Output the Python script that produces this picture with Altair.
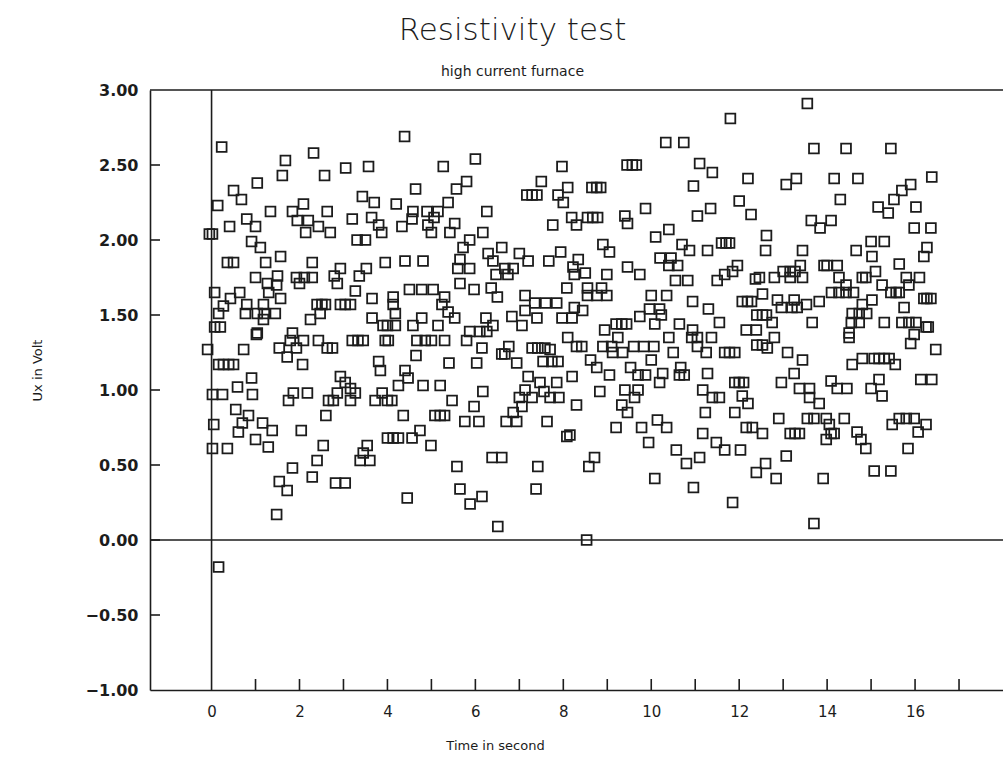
import altair as alt
import pandas as pd

# ---- data: (time in s, Ux in V), grouped by region ----
pts_a = [(0.23,2.62),(1.68,2.53),(2.32,2.58),(3.05,2.48),(3.57,2.49),(1.61,2.43),(2.57,2.43),(1.04,2.38),(0.50,2.33),(0.68,2.27),
 (0.14,2.23),(3.43,2.29),(3.70,2.25),(1.34,2.19),(2.09,2.24),(1.84,2.19),(2.63,2.19),(1.95,2.13),(2.20,2.13),(0.80,2.14),
 (1.00,2.09),(0.41,2.09),(2.43,2.09),(2.14,2.05),(2.70,2.05),(3.20,2.14),(3.64,2.15),(3.80,2.10),(3.87,2.05),(-0.05,2.04),
 (0.02,2.04),(0.91,1.99),(1.11,1.95),(3.31,2.00),(3.50,2.00),(1.57,1.89),(0.36,1.85),(0.50,1.85),(1.23,1.85),(2.29,1.85),
 (3.95,1.85),(1.00,1.75),(1.50,1.76),(1.93,1.75),(2.11,1.75),(2.29,1.75),(2.93,1.81),(2.79,1.76),(3.52,1.81),(3.36,1.76),
 (1.27,1.71),(1.48,1.70),(2.00,1.71),(2.86,1.71),(0.07,1.65),(0.64,1.65),(1.30,1.65),(3.27,1.66),(3.65,1.61),(0.43,1.61),
 (1.57,1.61),(0.27,1.56),(0.80,1.57),(1.18,1.57),(2.40,1.57),(2.51,1.57),(2.59,1.57),(2.93,1.57),(3.04,1.57),(3.16,1.57),
 (0.16,1.51),(0.77,1.51),(1.04,1.51),(1.20,1.51),(1.45,1.51),(2.47,1.51),(2.25,1.47),(1.18,1.47),(3.65,1.48),(3.90,1.43),
 (0.07,1.42),(0.20,1.42),(1.04,1.38),(1.84,1.38)]

pts_b = [(4.39,2.69),(6.00,2.54),(5.27,2.49),(7.97,2.49),(5.80,2.39),(5.57,2.34),(4.64,2.34),(7.50,2.39),(7.17,2.30),(7.29,2.30),
 (7.40,2.30),(8.10,2.35),(7.88,2.30),(8.00,2.25),(4.20,2.24),(5.38,2.25),(6.26,2.19),(4.58,2.19),(4.90,2.19),(5.15,2.19),
 (4.56,2.14),(5.06,2.15),(4.33,2.09),(4.92,2.10),(5.53,2.11),(5.00,2.05),(5.42,2.05),(7.76,2.10),(8.19,2.15),(8.30,2.10),
 (6.17,2.05),(5.87,2.00),(5.72,1.95),(6.60,1.95),(6.29,1.91),(7.00,1.91),(7.20,1.86),(6.40,1.86),(7.67,1.86),(7.94,1.92),
 (8.22,1.82),(4.40,1.86),(4.81,1.86),(5.65,1.87),(5.60,1.81),(5.87,1.81),(6.67,1.81),(6.86,1.81),(6.47,1.77),(6.74,1.77),
 (8.25,1.77),(5.65,1.71),(5.97,1.67),(6.36,1.68),(8.08,1.68),(4.50,1.67),(4.78,1.67),(5.04,1.67),(4.13,1.62),(5.30,1.62),
 (6.50,1.62),(7.13,1.63),(4.13,1.57),(5.24,1.57),(7.35,1.58),(7.60,1.58),(7.85,1.58),(4.18,1.51),(5.38,1.52),(7.13,1.53),
 (8.25,1.55),(4.78,1.48),(5.53,1.48),(6.24,1.48),(6.83,1.49),(7.40,1.48),(7.97,1.48),(8.20,1.48),(4.00,1.43),(4.18,1.43),
 (4.58,1.43),(5.15,1.43),(6.40,1.43),(7.06,1.43),(5.87,1.39),(6.10,1.39),(6.26,1.39)]

pts_c = [(11.80,2.81),(10.33,2.65),(10.74,2.65),(9.45,2.50),(9.57,2.50),(9.66,2.50),(11.10,2.51),(11.39,2.45),(12.20,2.41),(10.96,2.36),
 (8.65,2.35),(8.76,2.35),(8.85,2.35),(12.00,2.26),(9.87,2.21),(11.05,2.16),(11.35,2.21),(12.27,2.17),(8.55,2.15),(8.67,2.15),
 (8.78,2.15),(9.40,2.16),(9.46,2.11),(10.40,2.07),(10.10,2.02),(12.62,2.03),(8.90,1.97),(9.05,1.92),(10.70,1.97),(10.87,1.93),
 (11.28,1.93),(11.60,1.98),(11.70,1.98),(11.78,1.98),(12.60,1.93),(8.34,1.87),(10.20,1.88),(10.45,1.88),(10.40,1.83),(10.60,1.83),
 (9.46,1.82),(9.74,1.77),(8.99,1.77),(8.50,1.78),(10.55,1.73),(10.83,1.73),(11.50,1.73),(11.67,1.77),(11.85,1.79),(11.96,1.83),
 (12.37,1.74),(8.55,1.68),(8.87,1.68),(8.55,1.63),(8.76,1.63),(8.99,1.63),(10.00,1.63),(10.35,1.63),(10.94,1.59),(12.07,1.59),
 (12.19,1.59),(12.28,1.59),(12.53,1.64),(8.44,1.53),(9.96,1.54),(10.19,1.54),(9.74,1.49),(10.23,1.50),(11.30,1.54),(12.40,1.50),
 (12.53,1.50),(12.62,1.50),(9.20,1.44),(9.33,1.44),(9.44,1.44),(8.94,1.40),(10.08,1.44),(10.64,1.44),(10.94,1.40),(11.55,1.45),
 (12.16,1.40),(12.39,1.40)]

pts_d = [(13.55,2.91),(13.70,2.61),(14.43,2.61),(15.45,2.61),(16.38,2.42),(13.30,2.41),(13.07,2.37),(14.16,2.41),(14.70,2.41),(15.90,2.37),
 (15.70,2.33),(15.52,2.27),(14.30,2.27),(15.16,2.22),(15.39,2.18),(16.02,2.22),(13.64,2.13),(13.84,2.08),(14.09,2.13),(15.98,2.08),
 (16.36,2.08),(13.44,1.93),(14.66,1.93),(15.00,1.99),(15.30,1.99),(15.02,1.89),(16.27,1.95),(16.20,1.89),(15.64,1.84),(13.39,1.83),
 (13.93,1.83),(14.00,1.83),(14.23,1.83),(13.00,1.79),(13.16,1.79),(13.27,1.79),(15.10,1.79),(12.46,1.75),(12.80,1.75),(13.16,1.75),
 (13.44,1.75),(14.27,1.75),(14.80,1.75),(14.88,1.75),(15.80,1.75),(16.10,1.75),(14.43,1.70),(15.25,1.70),(15.86,1.70),(14.10,1.65),
 (14.27,1.65),(14.43,1.65),(14.60,1.65),(15.45,1.65),(15.57,1.65),(15.64,1.65),(12.87,1.60),(13.25,1.60),(13.53,1.57),(13.82,1.59),
 (15.02,1.60),(16.20,1.61),(16.27,1.61),(16.36,1.61),(12.96,1.55),(13.20,1.55),(13.32,1.55),(14.80,1.57),(14.73,1.51),(14.90,1.51),
 (15.75,1.55),(12.75,1.45),(13.66,1.45),(14.55,1.45),(14.73,1.45),(14.57,1.51),(15.30,1.45),(15.70,1.45),(15.86,1.45),(16.02,1.45),
 (16.25,1.42),(16.30,1.42),(14.50,1.38)]

pts_e = [(1.02,1.37),(1.79,1.33),(2.09,1.33),(1.93,1.28),(1.72,1.22),(1.54,1.28),(2.43,1.33),(2.75,1.28),(2.63,1.28),(3.20,1.33),
 (3.33,1.33),(3.45,1.33),(-0.09,1.27),(0.73,1.27),(3.95,1.33),(3.80,1.19),(3.84,1.13),(0.16,1.17),(0.27,1.17),(0.39,1.17),
 (0.50,1.17),(2.07,1.17),(0.91,1.08),(2.93,1.09),(3.04,1.05),(3.16,1.01),(0.59,1.02),(0.02,0.97),(0.25,0.97),(0.93,0.97),
 (1.86,0.98),(2.18,0.98),(1.75,0.93),(2.66,0.93),(2.77,0.93),(2.86,0.98),(3.16,0.93),(3.27,0.98),(3.72,0.93),(3.88,0.98),
 (4.00,0.93),(0.55,0.87),(0.84,0.83),(0.70,0.78),(0.61,0.72),(1.16,0.78),(1.38,0.73),(1.00,0.67),(1.29,0.62),(0.05,0.77),
 (0.02,0.61),(0.36,0.61),(2.04,0.73),(2.60,0.83),(2.54,0.63),(2.40,0.53),(1.84,0.48),(2.29,0.42),(1.54,0.39),(1.72,0.33),
 (2.82,0.38),(3.04,0.38),(3.54,0.63),(3.45,0.58),(3.38,0.53),(3.60,0.53),(1.48,0.17),(0.16,-0.18),(4.00,0.68)]

pts_f = [(4.02,1.33),(4.67,1.33),(4.86,1.33),(5.00,1.33),(5.30,1.33),(5.80,1.33),(6.15,1.28),(4.65,1.23),(5.40,1.18),(6.03,1.18),
 (6.60,1.24),(6.67,1.24),(6.76,1.29),(6.94,1.18),(7.29,1.28),(7.42,1.28),(7.58,1.28),(7.70,1.27),(7.54,1.19),(7.74,1.19),
 (7.88,1.19),(8.10,1.35),(8.30,1.29),(4.40,1.13),(4.47,1.08),(4.25,1.03),(4.81,1.03),(5.20,1.03),(4.10,0.93),(5.47,0.93),
 (6.17,0.99),(5.97,0.89),(7.20,1.09),(7.47,1.05),(7.85,1.05),(8.20,1.09),(7.13,1.00),(7.00,0.95),(7.29,0.95),(7.56,0.99),
 (7.70,0.95),(7.90,0.95),(7.06,0.89),(6.86,0.85),(8.30,0.90),(4.36,0.83),(5.08,0.83),(5.20,0.83),(5.30,0.83),(5.76,0.79),
 (6.08,0.79),(6.70,0.79),(6.94,0.79),(7.63,0.79),(4.13,0.68),(4.25,0.68),(4.56,0.68),(4.74,0.73),(4.99,0.63),(8.08,0.69),
 (5.58,0.49),(6.38,0.55),(6.60,0.55),(7.42,0.49),(4.45,0.28),(5.65,0.34),(6.15,0.29),(5.88,0.24),(7.38,0.34),(6.51,0.09)]

pts_g = [(10.92,1.35),(11.05,1.35),(11.37,1.35),(10.40,1.35),(8.42,1.29),(8.90,1.29),(9.10,1.29),(9.24,1.35),(9.35,1.25),(9.12,1.25),
 (9.60,1.29),(9.83,1.29),(10.06,1.29),(10.50,1.25),(10.00,1.20),(11.05,1.29),(11.25,1.25),(11.67,1.25),(11.78,1.25),(11.90,1.25),
 (12.40,1.30),(12.53,1.30),(12.64,1.28),(8.62,1.20),(8.76,1.15),(9.05,1.10),(9.53,1.15),(9.70,1.10),(9.87,1.10),(10.26,1.11),
 (10.19,1.05),(10.67,1.15),(10.64,1.10),(10.75,1.10),(11.28,1.11),(11.90,1.05),(12.00,1.05),(12.10,1.05),(8.83,0.99),(9.40,1.00),
 (9.62,0.95),(9.70,1.00),(9.33,0.90),(9.46,0.85),(11.17,1.00),(11.39,0.95),(11.55,0.95),(12.07,0.96),(12.20,0.91),(11.23,0.85),
 (11.90,0.85),(9.20,0.75),(9.78,0.75),(10.14,0.80),(10.35,0.75),(9.94,0.65),(11.17,0.71),(11.48,0.65),(11.67,0.60),(12.03,0.60),
 (12.16,0.75),(12.30,0.75),(12.53,0.71),(10.57,0.60),(11.10,0.55),(10.80,0.51),(8.15,0.70),(8.71,0.55),(8.58,0.49),(12.39,0.45),
 (12.60,0.51),(10.08,0.41),(10.96,0.35),(11.85,0.25),(8.53,0.00)]

pts_h = [(12.80,1.35),(14.50,1.35),(15.90,1.31),(15.98,1.37),(16.47,1.27),(13.10,1.25),(13.44,1.20),(14.57,1.17),(14.80,1.21),(15.07,1.21),
 (15.18,1.21),(15.30,1.21),(15.41,1.21),(15.55,1.17),(13.25,1.11),(12.96,1.05),(13.37,1.01),(13.60,1.01),(13.60,0.95),(13.82,0.91),
 (14.09,1.06),(14.23,1.01),(14.45,1.01),(15.00,1.01),(15.18,1.07),(15.25,0.96),(16.13,1.07),(16.38,1.07),(12.90,0.81),(13.55,0.81),
 (13.70,0.81),(13.98,0.81),(14.39,0.81),(13.16,0.71),(13.27,0.71),(13.37,0.71),(14.05,0.77),(14.16,0.71),(13.98,0.67),(14.09,0.71),
 (14.68,0.72),(14.77,0.67),(14.88,0.61),(15.48,0.77),(15.64,0.81),(15.80,0.81),(15.98,0.81),(16.25,0.77),(16.07,0.72),(15.84,0.61),
 (13.07,0.56),(12.84,0.41),(13.91,0.41),(15.07,0.46),(15.45,0.46),(13.70,0.11)]

x_label_values = [0, 2, 4, 6, 8, 10, 12, 14, 16]
x_minor_ticks = list(range(1, 18))
y_label_values = [-1.0, -0.5, 0.0, 0.5, 1.0, 1.5, 2.0, 2.5, 3.0]
y_inner_ticks = [-0.5, 0.0, 0.5, 1.0, 1.5, 2.0, 2.5]
x_domain = [-1.4, 18.0]
y_domain = [-1.0, 3.0]

all_pts = pts_a + pts_b + pts_c + pts_d + pts_e + pts_f + pts_g + pts_h
df = pd.DataFrame(all_pts, columns=["t", "ux"])

INK = "#1c1c1c"
FONT = "DejaVu Sans"
W, H = 853, 600

xscale = alt.Scale(domain=x_domain, nice=False, zero=False)
yscale = alt.Scale(domain=y_domain, nice=False, zero=False)

points = alt.Chart(df).mark_point(
    shape="square", filled=False, size=96, strokeWidth=1.8, color=INK, opacity=1
).encode(
    x=alt.X("t:Q", scale=xscale, axis=alt.Axis(
        values=x_label_values, format="d", tickSize=0, grid=False,
        domain=True, domainColor=INK, domainWidth=1.6,
        labelPadding=14, labelFontSize=15, labelFont=FONT, labelColor=INK,
        title="Time in second", titleFont=FONT, titleFontSize=13,
        titleFontWeight="normal", titleColor=INK,
        titleX=345, titleY=55, titleAlign="center", titleBaseline="middle")),
    y=alt.Y("ux:Q", scale=yscale, axis=alt.Axis(
        values=y_label_values, format=".2f", tickSize=0, grid=False,
        domain=True, domainColor=INK, domainWidth=1.6,
        labelPadding=12, labelFontSize=16, labelFont=FONT, labelColor=INK,
        labelFontWeight="bold",
        title="Ux in Volt", titleFont=FONT, titleFontSize=13,
        titleFontWeight="normal", titleColor=INK,
        titleX=-113, titleY=280, titleAngle=270, titleAlign="center",
        titleBaseline="middle")),
)

top_line = alt.Chart(pd.DataFrame({"v": [y_domain[1]]})).mark_rule(
    color=INK, strokeWidth=1.6).encode(y=alt.Y("v:Q", scale=yscale))
zero_h = alt.Chart(pd.DataFrame({"v": [0.0]})).mark_rule(
    color=INK, strokeWidth=1.6).encode(y=alt.Y("v:Q", scale=yscale))
zero_v = alt.Chart(pd.DataFrame({"v": [0.0]})).mark_rule(
    color=INK, strokeWidth=1.6).encode(x=alt.X("v:Q", scale=xscale))

yticks = alt.Chart(pd.DataFrame({"v": y_inner_ticks})).mark_rule(
    color=INK, strokeWidth=1.6).encode(
    y=alt.Y("v:Q", scale=yscale), x=alt.value(0), x2=alt.value(10))
xticks = alt.Chart(pd.DataFrame({"v": x_minor_ticks})).mark_rule(
    color=INK, strokeWidth=1.6).encode(
    x=alt.X("v:Q", scale=xscale), y=alt.value(H), y2=alt.value(H - 11))

chart = alt.layer(top_line, zero_h, zero_v, yticks, xticks, points).properties(
    width=W, height=H,
    title=alt.TitleParams(
        "Resistivity test", subtitle="high current furnace",
        font=FONT, fontSize=31, fontWeight=300, color=INK,
        subtitleFont=FONT, subtitleFontSize=14, subtitleColor=INK,
        subtitlePadding=18, anchor="middle", dx=-64, offset=2),
    autosize=alt.AutoSizeParams(type="none"),
    padding={"left": 150, "top": 90, "right": 0, "bottom": 68},
    background="white",
).configure_view(stroke=None)

chart.save("out.html", embed_options={"renderer": "svg", "actions": False})
